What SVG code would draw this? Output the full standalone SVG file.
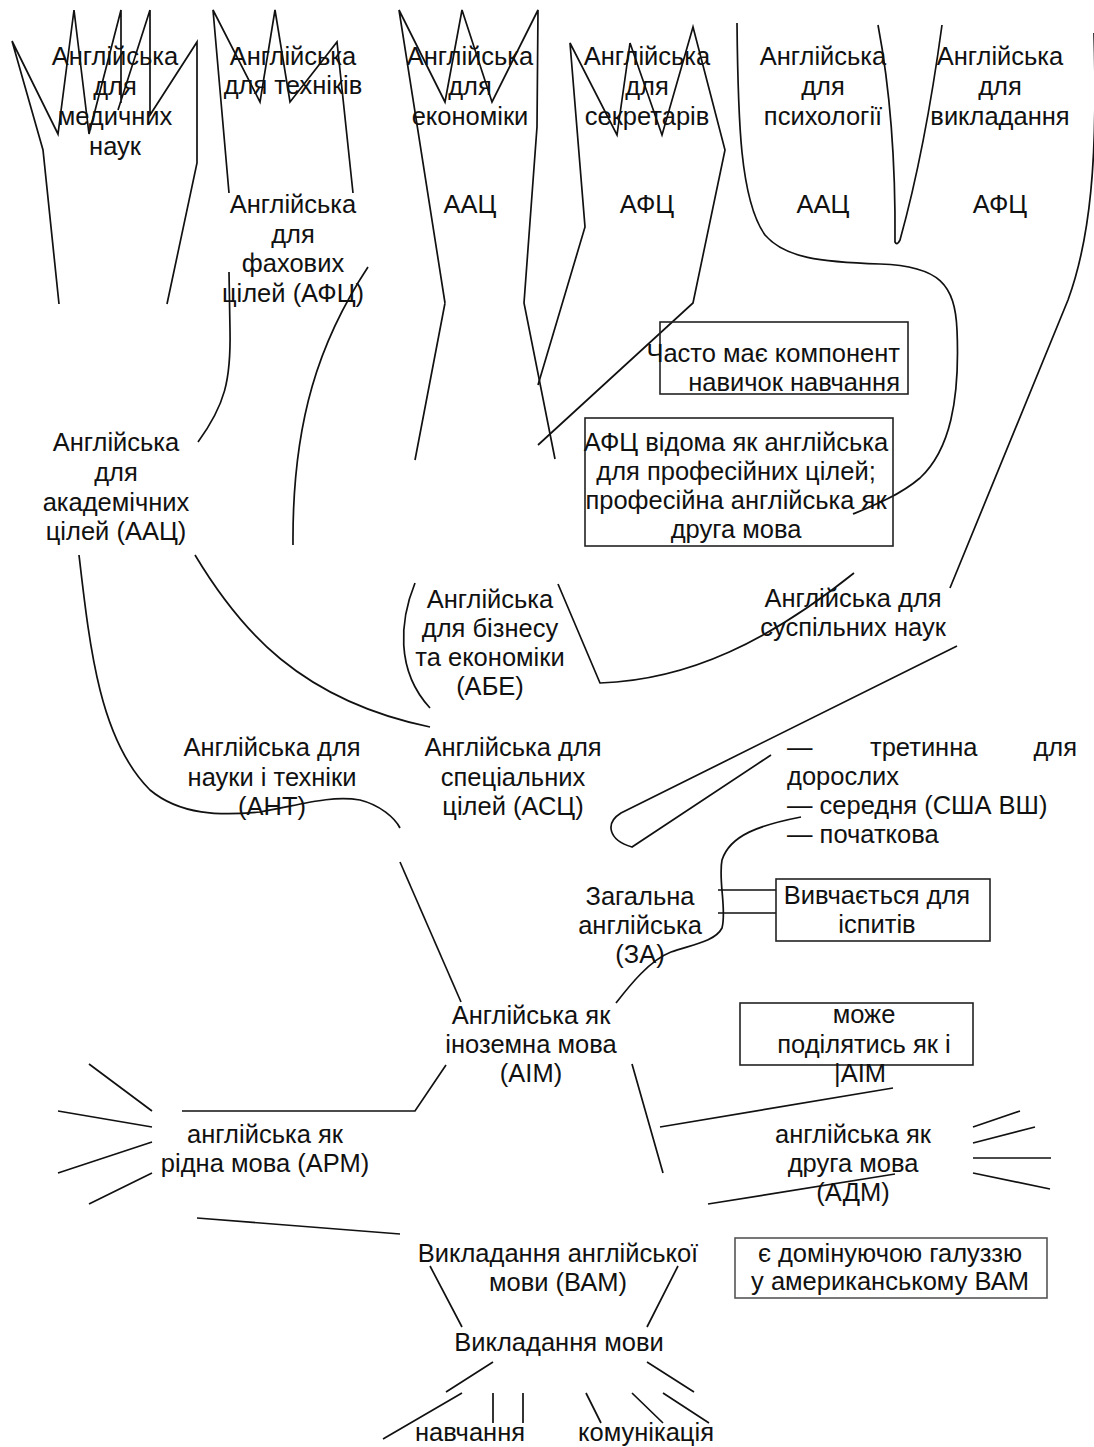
<svg xmlns="http://www.w3.org/2000/svg" width="1094" height="1447" viewBox="0 0 1094 1447">
<style>
text{font-family:"Liberation Sans",Arial,sans-serif;font-size:25.5px;fill:#111;text-anchor:middle}
.l{fill:none;stroke:#111;stroke-width:1.7;stroke-linejoin:miter}
.box{fill:none;stroke:#222;stroke-width:1.6}
.gbox{fill:none;stroke:#555;stroke-width:1.6}
</style>
<rect width="1094" height="1447" fill="#fff"/>
<g id="connectors">
<path class="l" d="M12,41 L43,150 L59,304 M12,41 L58,134 L74,10 L89,134 L121,10 L121,103 M150,10 L118,110 M150,10 L150,115 L197,42 L197,163 L167,304"/>
<path class="l" d="M229,193 L213,10 L260,102 L275,10 L290,102 L337,42 L353,193"/>
<path class="l" d="M229,272 L230,330 C231,380 225,405 198,442"/>
<path class="l" d="M368,267 C320,340 292,420 293,545"/>
<path class="l" d="M445,303 L399,10 L445,102 L462,10 L492,102 L538,10 L537,127 L524,303 L555,459 M445,303 L415,460"/>
<path class="l" d="M538,385 L585,227 L570,43 L617,135 L630,43 L662,135 L693,27 L725,150 L693,303 L538,445"/>
<path class="l" d="M737,23 C738,120 740,200 765,235 C785,258 820,262 880,264 C940,266 955,285 957,330 C960,400 950,450 920,478 C900,495 875,505 853,514"/>
<path class="l" d="M878,25 Q896,120 895,242 Q897,246 900,240 Q925,150 942,25"/>
<path class="l" d="M1094,33 C1098,160 1090,240 1068,300 L950,588"/>
<path class="l" d="M558,584 L600,683 C690,680 770,640 854,573"/>
<path class="l" d="M957,646 L621,813 C605,823 608,840 632,847 L771,755"/>
<path class="l" d="M801,817 C760,825 730,835 722,860 C718,880 727,910 722,928 C715,942 690,945 671,952 C650,960 630,985 616,1003"/>
<path class="l" d="M718,890 L776,890 M718,913 L776,913"/>
<path class="l" d="M79,555 C90,650 100,740 150,790 C180,815 220,816 260,812 C300,805 330,795 360,800 C380,805 395,818 400,828"/>
<path class="l" d="M195,555 C240,630 300,700 430,727"/>
<path class="l" d="M415,583 C400,620 395,670 430,708"/>
<path class="l" d="M400,862 L461,1002"/>
<path class="l" d="M446,1065 L415,1111 L182,1111"/>
<path class="l" d="M89,1064 L152,1111 M58,1111 L152,1127 M58,1173 L152,1142 M152,1173 L89,1204"/>
<path class="l" d="M197,1218 L400,1234"/>
<path class="l" d="M632,1064 L663,1173 M660,1127 L893,1088"/>
<path class="l" d="M973,1127 L1020,1111 M973,1143 L1035,1127 M973,1158 L1051,1158 M973,1173 L1050,1189"/>
<path class="l" d="M708,1204 L895,1174"/>
<path class="l" d="M430,1266 L462,1327 M678,1266 L647,1327"/>
<path class="l" d="M493,1362 L446,1392 M462,1393 L383,1439 M493,1393 L493,1423 M523,1393 L523,1423 M586,1393 L601,1423 M632,1393 L663,1423 M663,1393 L709,1423 M647,1362 L694,1392"/>
</g>
<g id="n_med"><text x="115" y="65">Англійська</text><text x="115" y="95">для</text><text x="115" y="125">медичних</text><text x="115" y="155">наук</text></g>
<g id="n_tech"><text x="293" y="65">Англійська</text><text x="293" y="94">для техніків</text></g>
<g id="n_esp_afc"><text x="293" y="213">Англійська</text><text x="293" y="243">для</text><text x="293" y="272">фахових</text><text x="293" y="302">цілей (АФЦ)</text></g>
<g id="n_econ"><text x="470" y="65">Англійська</text><text x="470" y="95">для</text><text x="470" y="125">економіки</text></g>
<g id="n_econ_t"><text x="470" y="213">ААЦ</text></g>
<g id="n_secr"><text x="647" y="65">Англійська</text><text x="647" y="95">для</text><text x="647" y="125">секретарів</text></g>
<g id="n_secr_t"><text x="647" y="213">АФЦ</text></g>
<g id="n_psy"><text x="823" y="65">Англійська</text><text x="823" y="95">для</text><text x="823" y="125">психології</text></g>
<g id="n_psy_t"><text x="823" y="213">ААЦ</text></g>
<g id="n_teach"><text x="1000" y="65">Англійська</text><text x="1000" y="95">для</text><text x="1000" y="125">викладання</text></g>
<g id="n_teach_t"><text x="1000" y="213">АФЦ</text></g>
<g id="n_note1"><rect class="box" x="660" y="322" width="248" height="72"/><text x="900" y="362" style="text-anchor:end">Часто має компонент</text><text x="900" y="391" style="text-anchor:end">навичок навчання</text></g>
<g id="n_note2"><rect class="box" x="585" y="418" width="308" height="128"/><text x="736" y="451">АФЦ відома як англійська</text><text x="736" y="480">для професійних цілей;</text><text x="736" y="509">професійна англійська як</text><text x="736" y="538">друга мова</text></g>
<g id="n_eap"><text x="116" y="451">Англійська</text><text x="116" y="481">для</text><text x="116" y="511">академічних</text><text x="116" y="540">цілей (ААЦ)</text></g>
<g id="n_abe"><text x="490" y="608">Англійська</text><text x="490" y="637">для бізнесу</text><text x="490" y="666">та економіки</text><text x="490" y="695">(АБЕ)</text></g>
<g id="n_ess"><text x="853" y="607">Англійська для</text><text x="853" y="636">суспільних наук</text></g>
<g id="n_est"><text x="272" y="756">Англійська для</text><text x="272" y="786">науки і техніки</text><text x="272" y="815">(АНТ)</text></g>
<g id="n_esp"><text x="513" y="756">Англійська для</text><text x="513" y="786">спеціальних</text><text x="513" y="815">цілей (АСЦ)</text></g>
<g id="n_levels"><text x="787" y="756" style="text-anchor:start">—</text><text x="870" y="756" style="text-anchor:start">третинна</text><text x="1077" y="756" style="text-anchor:end">для</text><text x="787" y="785" style="text-anchor:start">дорослих</text><text x="787" y="814" style="text-anchor:start">— середня (США ВШ)</text><text x="787" y="843" style="text-anchor:start">— початкова</text></g>
<g id="n_ge"><text x="640" y="905">Загальна</text><text x="640" y="934">англійська</text><text x="640" y="963">(ЗА)</text></g>
<g id="n_note3"><rect class="box" x="776" y="879" width="214" height="62"/><text x="877" y="904">Вивчається для</text><text x="877" y="933">іспитів</text></g>
<g id="n_efl"><text x="531" y="1024">Англійська як</text><text x="531" y="1053">іноземна мова</text><text x="531" y="1082">(АІМ)</text></g>
<g id="n_note4"><rect class="box" x="740" y="1003" width="233" height="62"/><text x="864" y="1023">може</text><text x="864" y="1053">поділятись як і</text><text x="860" y="1082">|АІМ</text></g>
<g id="n_enl"><text x="265" y="1143">англійська як</text><text x="265" y="1172">рідна мова (АРМ)</text></g>
<g id="n_esl"><text x="853" y="1143">англійська як</text><text x="853" y="1172">друга мова</text><text x="853" y="1201">(АДМ)</text></g>
<g id="n_elt"><text x="558" y="1262">Викладання англійської</text><text x="558" y="1291">мови (ВАМ)</text></g>
<g id="n_note5"><rect class="gbox" x="735" y="1238" width="312" height="60"/><text x="890" y="1262">є домінуючою галуззю</text><text x="890" y="1290">у американському ВАМ</text></g>
<g id="n_lt"><text x="559" y="1351">Викладання мови</text></g>
<g id="n_learn"><text x="470" y="1441">навчання</text></g>
<g id="n_comm"><text x="646" y="1441">комунікація</text></g>
</svg>
